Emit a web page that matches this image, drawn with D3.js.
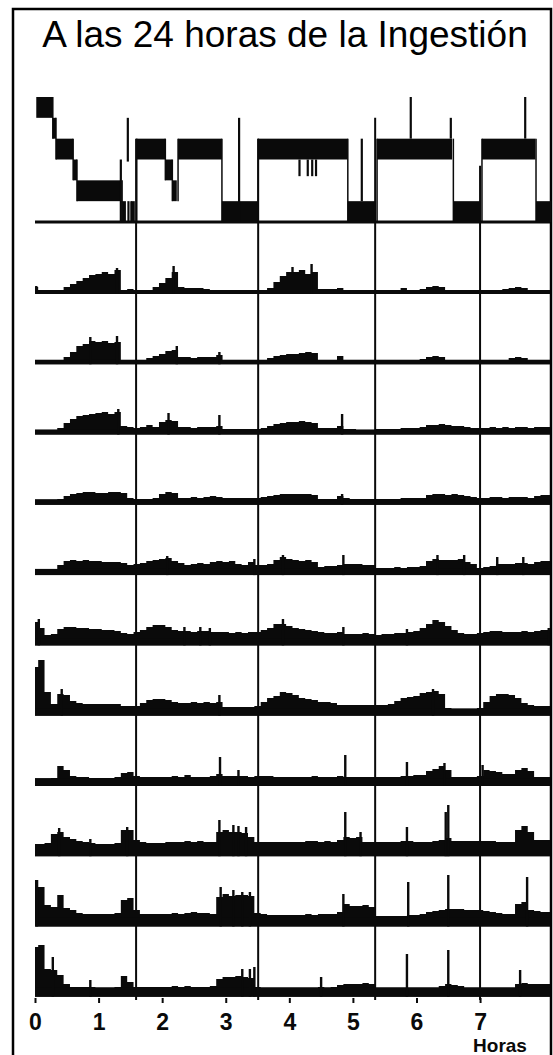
<!DOCTYPE html>
<html><head><meta charset="utf-8">
<script src="https://cdn.jsdelivr.net/npm/d3@7"></script>
<style>body{margin:0;background:#fff}svg{display:block}</style>
</head><body><svg id="c" width="553" height="1055"></svg>
<script>
// ---------- data ----------
const title = "A las 24 horas de la Ingestión";
const axisLabel = "Horas";
const hourTicks = [0, 1, 2, 3, 4, 5, 6, 7];
const cycleBoundaries = [1.59, 3.51, 5.35, 7.0];
const cycleLineTopStage = [2, 2, 1, 3.3];
const sampleStep = 0.1; // hours between samples of each trace

// hypnogram: [start hour, end hour, stage]
const hypnoSegments = [
  [0.02, 0.28, 0], [0.28, 0.33, 1], [0.33, 0.60, 2], [0.60, 0.66, 3],
  [0.66, 1.34, 4], [1.37, 1.43, 5], [1.51, 1.57, 5], [1.60, 2.05, 2],
  [2.05, 2.16, 3], [2.16, 2.23, 4], [2.25, 2.94, 2], [2.94, 3.51, 5],
  [3.51, 4.92, 2], [4.92, 5.35, 5], [5.38, 6.56, 2], [6.58, 7.00, 5],
  [7.03, 7.87, 2], [7.88, 8.12, 5]
];
// hypnogram thin marks: [hour, top stage, bottom stage]
const hypnoSpikes = [
  [1.35, 3, 6], [1.46, 1, 3.1], [1.47, 5, 6], [3.21, 1, 6], [5.14, 2, 5],
  [5.91, 0, 2], [6.54, 1, 2], [7.71, 0, 2],
  [4.16, 3, 3.8], [4.29, 3, 3.8], [4.36, 3, 3.8], [4.42, 3, 3.8]
];

const trace1 = [5,1,1,1,2,5,8,11,14,17,18,20,18,22,2,3,1,1,2,5,9,14,20,5,4,4,4,3,1,1,1,1,1,1,1,1,2,4,10,16,20,20,22,18,20,3,3,3,4,2,1,1,1,1,1,1,1,2,4,2,2,3,5,6,5,2,1,1,1,1,1,1,1,2,3,4,5,4,1,1,1,1];
const trace2 = [1,1,1,1,2,5,10,16,18,21,20,21,19,20,1,1,1,2,4,6,8,11,12,5,5,4,5,5,5,7,1,1,1,1,1,1,2,4,6,7,8,8,9,10,9,2,2,2,6,1,1,1,1,1,1,1,1,1,1,2,2,3,5,6,5,2,1,1,1,1,1,1,1,1,2,4,5,4,1,1,1,1];
const trace3 = [1,1,1,1,4,9,13,16,17,18,19,20,18,20,6,5,4,5,7,5,10,12,11,5,5,4,5,5,5,6,3,3,3,3,3,3,4,6,8,9,10,10,11,10,9,4,4,4,6,3,3,2,2,2,3,3,3,3,4,4,4,5,7,7,8,7,6,6,5,4,4,4,5,4,5,4,5,5,4,5,5,5];
const trace4 = [1,1,1,1,3,6,8,9,10,10,9,9,10,10,9,4,3,3,3,4,8,10,9,4,4,5,4,5,6,5,4,4,4,4,4,4,5,6,7,8,8,8,8,8,7,3,3,3,6,4,3,3,3,3,3,3,3,3,4,4,4,4,7,8,8,7,8,7,6,5,4,4,5,5,4,5,5,5,4,6,7,7];
const trace5 = [2,2,2,2,7,11,12,11,12,11,11,10,10,10,9,7,8,9,11,12,13,14,11,9,7,8,9,8,10,11,10,11,8,7,10,7,7,8,12,15,13,12,11,12,10,5,6,6,7,8,8,8,7,7,4,4,4,5,4,5,5,6,11,13,12,12,12,13,10,8,4,5,6,8,8,8,9,9,8,10,11,11];
const trace6 = [20,14,7,8,13,15,15,14,14,13,13,12,12,11,9,8,10,12,15,17,17,15,12,11,11,10,11,11,10,10,10,9,10,9,10,10,12,14,18,18,16,14,13,12,11,10,9,9,10,8,8,8,9,8,7,8,8,9,9,10,11,14,18,22,20,16,12,9,8,8,9,10,11,11,10,10,10,11,10,11,12,12];
const trace7 = [45,52,20,8,18,17,11,9,8,8,8,8,8,8,6,6,6,9,12,13,13,12,10,9,9,10,9,10,9,10,5,5,5,5,5,6,10,14,16,20,19,17,14,13,12,10,10,9,7,7,7,7,7,7,7,7,8,11,14,15,16,19,20,21,18,4,3,3,3,3,4,10,16,18,18,17,14,9,7,6,6,6];
const trace8 = [2,2,2,4,16,12,6,5,5,4,4,4,4,5,9,10,6,5,5,5,5,5,6,5,7,5,5,5,6,8,6,6,6,6,5,6,6,6,5,5,5,5,5,5,6,5,5,5,6,5,5,5,5,5,5,5,5,5,6,6,7,7,11,13,16,12,5,5,5,5,6,12,11,10,8,8,12,14,11,5,5,5];
const trace9 = [8,8,9,18,20,15,13,11,10,9,8,8,8,9,22,22,12,10,9,9,9,10,10,10,11,10,11,10,10,20,22,20,20,19,15,10,10,10,10,10,10,10,10,11,11,10,11,10,12,15,14,15,10,10,10,10,10,10,11,11,10,10,10,11,12,14,11,11,11,11,11,11,11,10,10,10,22,26,20,12,12,12];
const trace10 = [42,35,17,15,27,14,12,9,8,8,8,8,8,9,22,24,12,8,8,8,8,8,9,8,9,10,9,9,8,25,28,26,27,27,26,9,8,7,7,7,7,7,7,8,7,8,8,8,10,18,16,16,17,15,6,6,6,6,6,7,7,8,10,11,12,13,13,13,12,12,12,11,10,9,8,8,18,20,12,11,10,10];
const trace11 = [45,47,23,22,17,8,5,5,5,5,4,4,4,5,16,10,5,5,5,5,5,5,6,5,6,5,5,5,6,13,15,15,16,15,14,5,4,4,4,4,4,4,4,4,4,5,4,5,7,8,8,8,9,8,3,3,3,3,3,3,3,3,4,4,6,8,7,6,4,3,3,3,3,3,3,3,8,9,8,8,8,8];

// narrow peaks: [hour, height]
const spikes1 = [[0.02,6],[1.29,24],[2.18,26],[4.05,25],[4.35,28]];
const spikes2 = [[0.87,25],[1.29,26],[2.23,16],[2.9,10]];
const spikes3 = [[1.31,23],[2.1,19],[2.9,17],[4.83,18]];
const spikes4 = [[4.83,8]];
const spikes5 = [[2.08,16],[3.45,13],[3.9,17],[4.85,17],[6.33,17],[6.75,17],[7.27,15],[7.68,15]];
const spikes6 = [[0.06,23],[2.35,15],[2.6,15],[2.75,14],[3.9,23],[4.85,15],[5.85,13],[8.08,14]];
const spikes7 = [[0.42,23],[2.9,17],[6.26,23]];
const spikes8 = [[2.91,25],[3.2,12],[4.88,27],[5.85,20],[6.44,19],[7.04,17]];
const spikes9 = [[0.38,24],[0.87,13],[1.45,25],[2.9,32],[3.12,27],[3.2,26],[3.32,25],[4.88,40],[5.12,20],[5.85,25],[6.46,40],[6.5,47]];
const spikes10 = [[0.03,42],[2.92,35],[3.12,32],[3.26,30],[3.38,30],[4.85,28],[5.87,40],[6.5,47],[7.74,45]];
const spikes11 = [[0.28,35],[0.87,12],[3.26,23],[3.38,23],[3.45,25],[4.5,15],[5.85,38],[6.5,42],[7.63,22]];

const traces = [trace1,trace2,trace3,trace4,trace5,trace6,trace7,trace8,trace9,trace10,trace11];
const spikes = [spikes1,spikes2,spikes3,spikes4,spikes5,spikes6,spikes7,spikes8,spikes9,spikes10,spikes11];

// ---------- drawing ----------
const svg = d3.select("#c");
const W = 553, H = 1055;
svg.append("rect").attr("width", W).attr("height", H).attr("fill", "#fff");

const x = d3.scaleLinear().domain([0, 8.1]).range([35, 550]);
const row = d3.scaleLinear().domain([0, 11]).range([222, 992]);
const stageY = d3.scaleLinear().domain([0, 6]).range([97, 222]);
const amp = d3.scaleLinear().domain([0, 50]).range([0, 50]);

// frame
svg.append("rect").attr("x", 13).attr("y", 9).attr("width", 538).attr("height", 1070)
  .attr("fill", "none").attr("stroke", "#000").attr("stroke-width", 2.5);

// title
svg.append("text").attr("x", 285).attr("y", 47).attr("text-anchor", "middle")
  .attr("font-family", "Liberation Sans, Arial, sans-serif").attr("font-size", 37)
  .attr("fill", "#000").text(title);

const ink = "#0a0a0a";

// cycle boundary lines
svg.append("g").selectAll("line").data(cycleBoundaries).join("line")
  .attr("x1", d => x(d)).attr("x2", d => x(d))
  .attr("y1", (d, i) => stageY(cycleLineTopStage[i])).attr("y2", 1000)
  .attr("stroke", ink).attr("stroke-width", 2);

// hypnogram
const hg = svg.append("g");
hg.append("rect").attr("x", x(0)).attr("width", x(8.1) - x(0))
  .attr("y", row(0) - 1.5).attr("height", 3).attr("fill", ink);
hg.selectAll("rect.seg").data(hypnoSegments).join("rect").attr("class", "seg")
  .attr("x", d => x(d[0])).attr("width", d => Math.max(2, x(d[1]) - x(d[0])))
  .attr("y", d => stageY(d[2])).attr("height", d => stageY(d[2] + 1) - stageY(d[2]))
  .attr("fill", ink);
const conns = [];
for (let i = 1; i < hypnoSegments.length; i++) {
  const a = hypnoSegments[i - 1], b = hypnoSegments[i];
  conns.push({ h: b[0], s0: Math.min(a[2], b[2]), s1: Math.max(a[2], b[2]) + 1 });
}
hg.selectAll("line.conn").data(conns).join("line").attr("class", "conn")
  .attr("x1", d => x(d.h)).attr("x2", d => x(d.h))
  .attr("y1", d => stageY(d.s0)).attr("y2", d => stageY(d.s1))
  .attr("stroke", ink).attr("stroke-width", 1.5);
hg.selectAll("line.sp").data(hypnoSpikes).join("line").attr("class", "sp")
  .attr("x1", d => x(d[0])).attr("x2", d => x(d[0]))
  .attr("y1", d => stageY(d[1])).attr("y2", d => stageY(d[2]))
  .attr("stroke", ink).attr("stroke-width", 2.2);

// traces
traces.forEach((vals, i) => {
  const base = row(i + 1);
  const t = 4 + i * 0.55;
  const g = svg.append("g");
  const pts = vals.map((v, k) => [k * sampleStep, v]);
  const area = d3.area()
    .x(d => x(Math.min(d[0], 8.1)))
    .y0(base + t / 2)
    .y1(d => base - amp(d[1]))
    .curve(d3.curveStep);
  g.append("path").attr("d", area(pts)).attr("fill", ink);
  g.append("rect").attr("x", x(0)).attr("width", x(8.1) - x(0))
    .attr("y", base - t / 2).attr("height", t).attr("fill", ink);
  g.selectAll("rect.spk").data(spikes[i]).join("rect").attr("class", "spk")
    .attr("x", d => x(d[0]) - 1.2).attr("width", 2.4)
    .attr("y", d => base - amp(d[1])).attr("height", d => amp(d[1]) + t / 2)
    .attr("fill", ink);
});

// axis
const ax = svg.append("g").attr("transform", "translate(0,998)")
  .call(d3.axisBottom(x).tickValues(hourTicks).tickSize(5).tickPadding(11).tickFormat(d3.format("d")));
ax.select(".domain").remove();
ax.selectAll("line").attr("stroke", ink).attr("stroke-width", 2);
ax.selectAll("text").attr("font-family", "Liberation Sans Narrow, Arial Narrow, Liberation Sans, sans-serif")
  .attr("font-weight", "bold").attr("font-size", 23).attr("fill", ink);

svg.append("text").attr("x", 500).attr("y", 1052).attr("text-anchor", "middle")
  .attr("font-family", "Liberation Sans, Arial, sans-serif").attr("font-weight", "bold")
  .attr("font-size", 19).attr("fill", ink).text(axisLabel);
</script>
</body></html>
